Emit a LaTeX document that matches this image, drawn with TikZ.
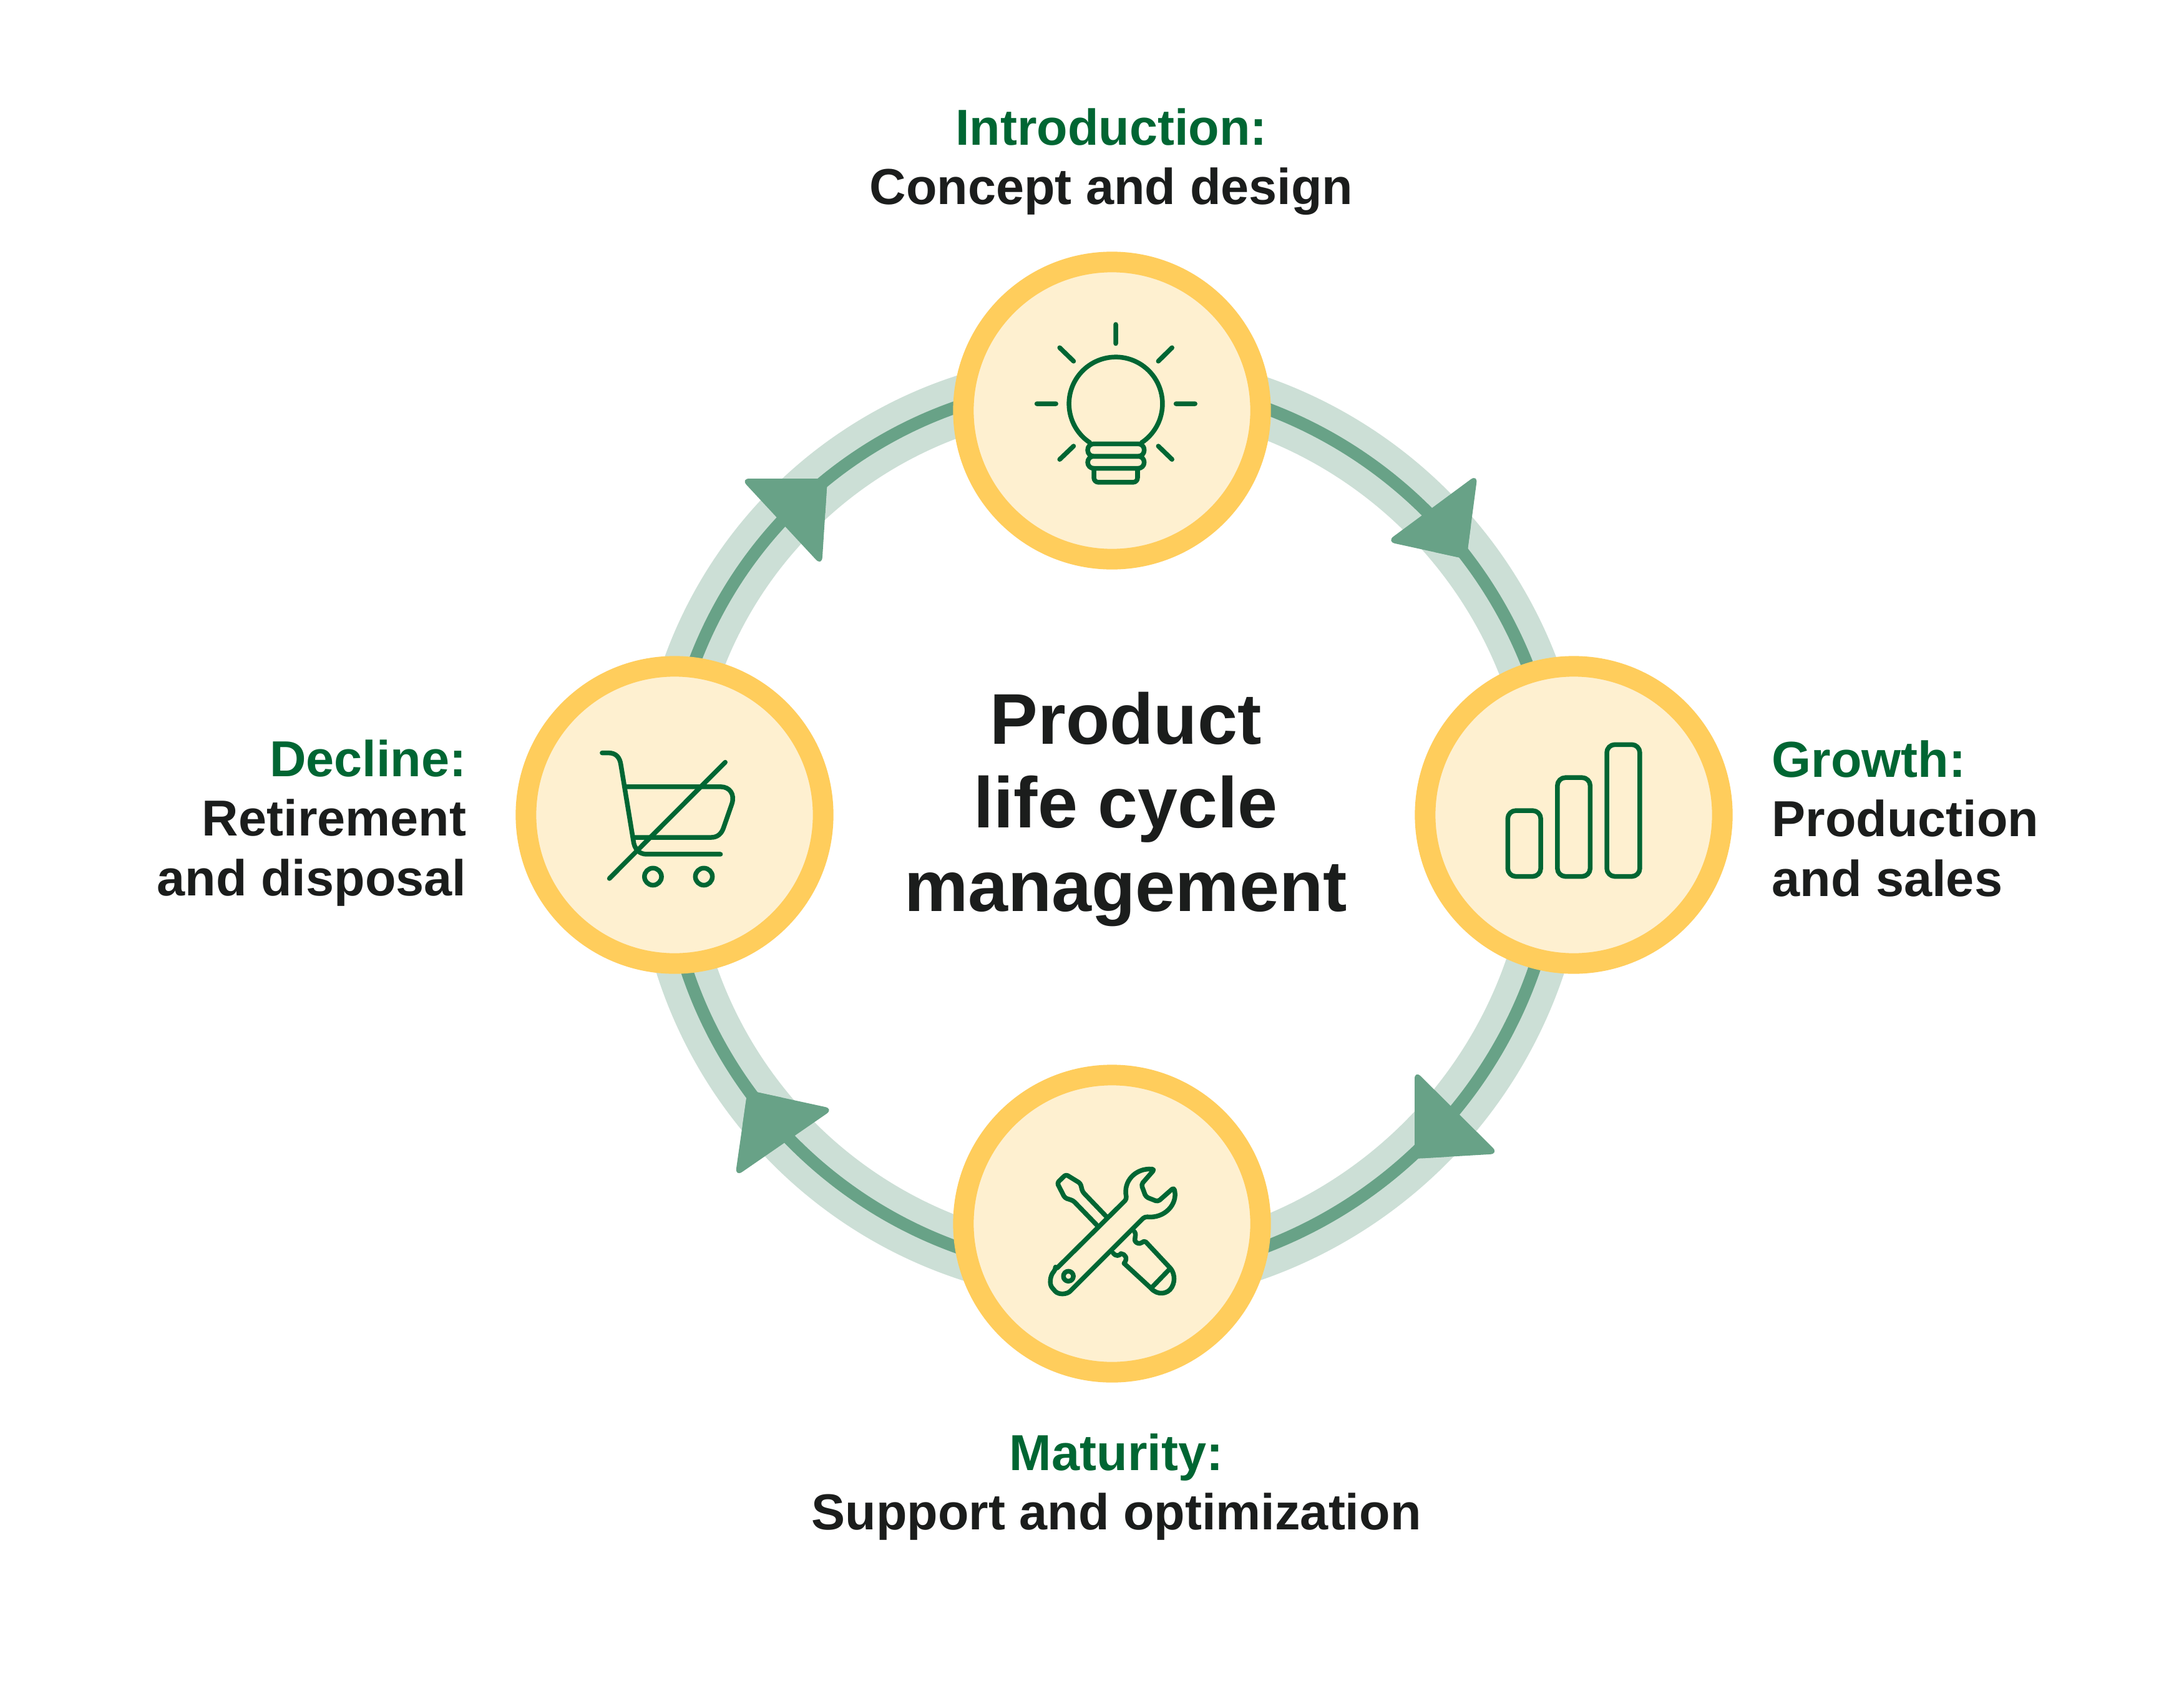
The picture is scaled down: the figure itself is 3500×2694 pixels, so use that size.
\documentclass[tikz,border=0pt]{standalone}
\usepackage{fontspec}
\usetikzlibrary{calc}
\setmainfont{Liberation Sans}
\definecolor{bandc}{HTML}{CCDFD6}
\definecolor{linec}{HTML}{68A287}
\definecolor{ringc}{HTML}{FFCD5C}
\definecolor{creamc}{HTML}{FEF0D0}
\definecolor{iconc}{HTML}{006633}
\definecolor{textc}{HTML}{1B1D1C}
\tikzset{
  arcpath/.style={draw=bandc,line width=0.95cm,postaction={draw=linec,line width=0.2cm}},
  tipfill/.style={fill=linec},
  stage/.style={circle,draw=ringc,fill=creamc,line width=0.33cm,minimum size=4.76cm,inner sep=0pt},
  icon/.style={draw=iconc,line width=0.075cm,line cap=round,line join=round},
  caption/.style={text=textc,inner sep=0pt,font=\fontsize{0.81cm}{0.95cm}\selectfont\bfseries},
  title/.style={text=textc,inner sep=0pt,align=center,font=\fontsize{1.15cm}{1.34cm}\selectfont\bfseries},
  iconframe/.style={x=0.0033333cm,y=-0.0033333cm}
}
\newcommand{\hd}[1]{\textcolor{iconc}{#1}}
\newcommand{\headtri}[3]{\fill[tipfill,rounded corners=0.14cm] (#1) -- (#2) -- (#3) -- cycle;
  \fill[tipfill] (#1) -- ($(#1)!0.4!(#2)$) -- ($(#1)!0.4!(#3)$) -- cycle;}
\begin{document}
\begin{tikzpicture}[x=0.01cm,y=-0.01cm]
\useasboundingbox (0,0) rectangle (3500,2694);
\fill[white] (0,0) rectangle (3500,2694);
% arcs
\path[arcpath] (1777,1330) ++(-80:721) arc (-80:-14:721);
\path[arcpath] (1765,1313) ++(13:734) arc (13:74.7:734);
\path[arcpath] (1775,1330) ++(103.4:711) arc (103.4:167:711);
\path[arcpath] (1760,1306) ++(195:692) arc (195:280:692);
% arrow heads
\headtri{2350,896}{2368,760}{2222,868}
\headtri{2267,1857}{2402,1849}{2267,1715}
\headtri{1198,1747}{1178,1886}{1336,1777}
\headtri{1326,767}{1187,767}{1317,907}
% stages
\node[stage] (intro) at (1782,658) {};
\node[stage] (growth) at (2522,1306) {};
\node[stage] (maturity) at (1782,1961) {};
\node[stage] (decline) at (1081,1306) {};
% bulb
\begin{scope}[shift={(1600,480)},iconframe]
\draw[icon] (565,120)--(565,212) (185,502)--(277,502) (855,502)--(947,502)
  (295,232)--(362,297) (836,232)--(770,297) (295,770)--(362,706) (836,770)--(770,706);
\draw[icon] (565,502) ++(123.6:225) arc (123.6:416.4:225);
\draw[icon,rounded corners=0.095cm] (430,695) rectangle (702,755);
\draw[icon,rounded corners=0.095cm] (430,755) rectangle (702,813);
\draw[icon,rounded corners=0.07cm] (460,813) -- (460,880) -- (670,880) -- (670,813);
\end{scope}
% bars
\begin{scope}[shift={(2350,1150)},iconframe]
\draw[icon,rounded corners=0.13cm] (199,448) rectangle (358,765);
\draw[icon,rounded corners=0.13cm] (438,289) rectangle (596,765);
\draw[icon,rounded corners=0.13cm] (676,130) rectangle (835,765);
\end{scope}
% tools
\begin{scope}[shift={(1600,1800)},iconframe]
\draw[icon,rounded corners=0.035cm] (480,497)--(360,373)--(320,360)--(283,288)--(325,247)--(395,290)--(405,330)--(522,452);
\draw[icon] (552,625) .. controls (565,642) and (582,640) .. (590,628) .. controls (610,630) and (625,650) .. (605,675)
  -- (735,795) .. controls (765,830) and (815,825) .. (835,790) .. controls (855,755) and (845,715) .. (825,695)
  -- (710,572) .. controls (695,560) and (690,590) .. (665,575) .. controls (645,560) and (670,545) .. (655,522);
\draw[icon] (825,702)--(740,790);
\draw[icon,rounded corners=0.04cm] (275,705) -- (618,365) .. controls (600,280) and (660,215) .. (752,222) -- (688,295) -- (710,355) -- (768,378) -- (845,310) .. controls (865,390) and (800,460) .. (705,450)
  -- (355,800) .. controls (330,825) and (290,828) .. (265,800) .. controls (245,775) and (248,735) .. (275,705) -- cycle;
\draw[icon] (337,737) circle (24);
\end{scope}
% cart
\begin{scope}[shift={(900,1150)},iconframe]
\draw[icon] (195,170) -- (225,170) .. controls (265,170) and (280,195) .. (285,225) -- (345,590) .. controls (350,635) and (375,658) .. (410,658) -- (765,658);
\draw[icon] (305,333) -- (765,333) .. controls (810,333) and (835,370) .. (820,415) -- (780,530) .. controls (770,560) and (750,577) .. (720,577) -- (345,577);
\draw[icon] (230,775) -- (788,215);
\draw[icon] (440,766) circle (41);
\draw[icon] (685,766) circle (41);
\end{scope}
% text
\node[title] (centre) at (1804,1297) {Product\\life cycle\\management};
\node[caption,align=center] (tintro) at (1781,259) {\hd{Introduction:}\\Concept and design};
\node[caption,align=center] (tmat) at (1789,2383) {\hd{Maturity:}\\Support and optimization};
\node[caption,align=right,anchor=east] (tdec) at (748,1319) {\hd{Decline:}\\Retirement\\and disposal};
\node[caption,align=left,anchor=west] (tgro) at (2839,1312) {\hd{Growth:}\\Production\\and sales};
\end{tikzpicture}
\end{document}
